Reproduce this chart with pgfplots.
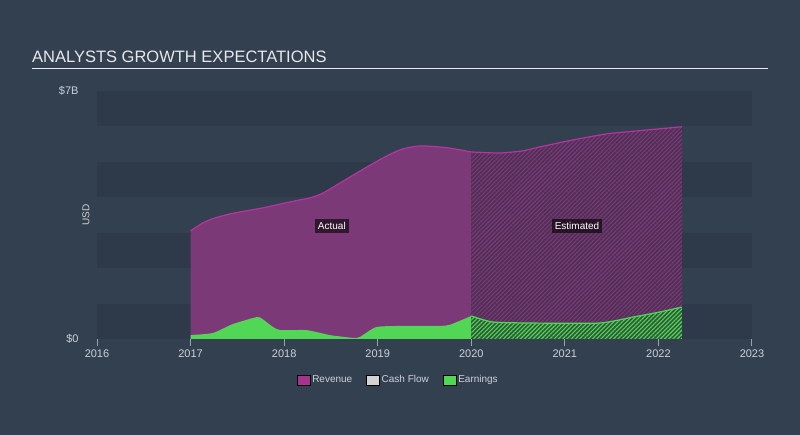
\documentclass[border=0pt]{standalone}
\usepackage{fontspec}
\setmainfont{Liberation Sans}
\usepackage{pgfplots}
\pgfplotsset{compat=1.18}
\usetikzlibrary{patterns.meta}

\definecolor{bg}{HTML}{334050}
\definecolor{band}{HTML}{2E3A49}
\definecolor{titlecol}{HTML}{E6E8EB}
\definecolor{ticktext}{HTML}{CDD2D8}
\definecolor{axisgrey}{HTML}{9AA3AD}
\definecolor{revfill}{HTML}{7B3A77}
\definecolor{revest}{HTML}{4E2F55}
\definecolor{revline}{HTML}{B3369E}
\definecolor{revleg}{HTML}{A8338F}
\definecolor{earnfill}{HTML}{52D655}
\definecolor{earnest}{HTML}{2F5A3A}
\definecolor{cashleg}{HTML}{D3D3D3}

\pgfplotstableread{
year  rev
2017.0  3.05
2017.12 3.26
2017.24 3.40
2017.42 3.53
2017.60 3.62
2017.77 3.70
2017.96 3.81
2018.12 3.90
2018.27 3.98
2018.40 4.10
2018.52 4.28
2018.74 4.63
2019.02 5.06
2019.24 5.34
2019.45 5.45
2019.74 5.40
2020.0  5.28
}\revactual
\pgfplotstableread{
year  rev
2020.0  5.28
2020.3  5.25
2020.55 5.31
2020.73 5.42
2021.09 5.62
2021.45 5.79
2021.8  5.88
2022.25 5.99
}\revestim
\pgfplotstableread{
year  earn
2017.0  0.11
2017.24 0.17
2017.45 0.42
2017.71 0.62
2017.77 0.56
2017.88 0.34
2017.96 0.25
2018.24 0.25
2018.49 0.11
2018.74 0.03
2018.81 0.06
2018.99 0.34
2019.31 0.37
2019.66 0.37
2019.77 0.40
2020.0  0.65
}\earnactual
\pgfplotstableread{
year  earn
2020.0  0.65
2020.23 0.48
2020.66 0.45
2021.37 0.45
2021.73 0.62
2022.01 0.76
2022.25 0.90
}\earnestim

\begin{document}
\begin{tikzpicture}
\fill[bg] (0bp,0bp) rectangle (800bp,435bp);
\node[anchor=base west, text=titlecol, inner sep=0pt,
      font=\fontsize{16.5bp}{19bp}\selectfont] at (32bp,372bp) {ANALYSTS GROWTH EXPECTATIONS};
\draw[titlecol, line width=1bp] (32bp,366.5bp) -- (768bp,366.5bp);

\begin{axis}[
    at={(97bp,96bp)}, anchor=south west,
    scale only axis, width=655bp, height=248bp,
    xmin=2016, xmax=2023, ymin=0, ymax=7,
    enlargelimits=false,
    axis x line*=bottom, axis y line*=left,
    y axis line style={draw=none},
    x axis line style={draw=axisgrey, line width=1bp},
    xtick={2016,2017,2018,2019,2020,2021,2022,2023},
    xticklabels={2016,2017,2018,2019,2020,2021,2022,2023},
    ytick={0,7}, yticklabels={\$0,\$7B},
    tick align=outside,
    x tick style={draw=axisgrey, line width=1bp},
    y tick style={draw=none},
    major tick length=7bp,
    x tick label style={text=ticktext, font=\fontsize{11bp}{13bp}\selectfont},
    y tick label style={text=ticktext, font=\fontsize{11bp}{13bp}\selectfont, anchor=east, xshift=-8bp},
    ylabel={USD},
    ylabel style={at={(axis description cs:-0.0168,0.5)}, anchor=center, text=ticktext,
                  font=\fontsize{10bp}{12bp}\selectfont},
    legend style={at={(0.46,-0.165)}, anchor=center, draw=none, fill=none,
                  text=ticktext, font=\fontsize{10bp}{12bp}\selectfont,
                  legend columns=3,
                  /tikz/every even column/.append style={column sep=12bp}},
    legend image code/.code={\fill[#1] (0bp,-5bp) rectangle (13bp,5bp);},
]
% background bands
\fill[band] (axis cs:2016,0) rectangle (axis cs:2023,1);
\fill[band] (axis cs:2016,2) rectangle (axis cs:2023,3);
\fill[band] (axis cs:2016,4) rectangle (axis cs:2023,5);
\fill[band] (axis cs:2016,6) rectangle (axis cs:2023,7);

% revenue
\addplot[forget plot, draw=none, fill=revfill, smooth, tension=0.4] table[x=year,y=rev] {\revactual} \closedcycle;
\addplot[forget plot, draw=none, fill=revest, smooth, tension=0.4,
  postaction={pattern={Lines[angle=45,distance=3bp,line width=1.1bp]}, pattern color=revfill}]
  table[x=year,y=rev] {\revestim} \closedcycle;
\addplot[forget plot, revline, line width=1.2bp, smooth, tension=0.4] table[x=year,y=rev] {\revactual};
\addplot[forget plot, revline, line width=1.2bp, smooth, tension=0.4] table[x=year,y=rev] {\revestim};

% earnings
\addplot[forget plot, draw=none, fill=earnfill, smooth, tension=0.35] table[x=year,y=earn] {\earnactual} \closedcycle;
\addplot[forget plot, draw=none, fill=earnest, smooth, tension=0.35,
  postaction={pattern={Lines[angle=45,distance=3bp,line width=1.1bp]}, pattern color=earnfill}]
  table[x=year,y=earn] {\earnestim} \closedcycle;
\addplot[forget plot, earnfill, line width=1.2bp, smooth, tension=0.35] table[x=year,y=earn] {\earnestim};

\node[fill=black, fill opacity=0.6, text opacity=1, text=white, inner sep=3bp,
      font=\fontsize{10bp}{12bp}\selectfont] at (axis cs:2018.51,3.19) {Actual};
\node[fill=black, fill opacity=0.6, text opacity=1, text=white, inner sep=3bp,
      font=\fontsize{10bp}{12bp}\selectfont] at (axis cs:2021.13,3.19) {Estimated};

\addlegendimage{fill=revleg}\addlegendentry{Revenue}
\addlegendimage{fill=cashleg}\addlegendentry{Cash Flow}
\addlegendimage{fill=earnfill}\addlegendentry{Earnings}
\end{axis}
\end{tikzpicture}
\end{document}
